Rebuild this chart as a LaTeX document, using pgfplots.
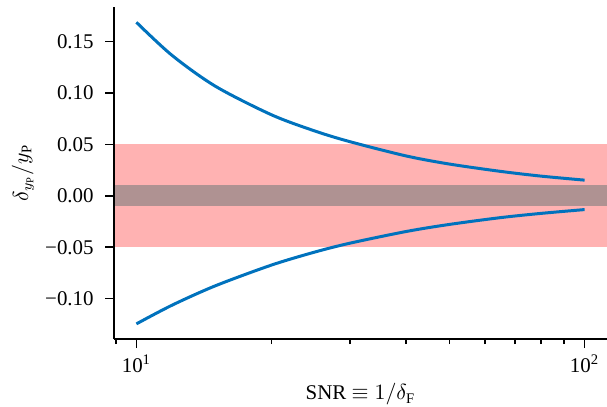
\documentclass[border=0pt]{standalone}
\usepackage{fontspec}
\setmainfont{Liberation Serif}
\usepackage{pgfplots}
\pgfplotsset{compat=1.18}
\definecolor{lineblue}{RGB}{0,114,189}
\definecolor{bandred}{RGB}{255,178,178}
\definecolor{bandgray}{RGB}{175,146,146}

\begin{document}
\fontsize{10.5}{12.6}\selectfont
\begin{tikzpicture}
\begin{axis}[
    scale only axis,
    width=246.5bp, height=166bp,
    xmode=log, xmin=8.9125, xmax=112.2,
    ymin=-0.1392, ymax=0.1835,
    axis lines=left,
    axis line style={-, line width=1.1pt},
    axis on top,
    tick align=outside,
    major tick length=4.5bp, minor tick length=2.5bp,
    every tick/.style={black, line width=0.8pt},
    ytick={-0.1,-0.05,0,0.05,0.1,0.15},
    yticklabels={−0.10,−0.05,0.00,0.05,0.10,0.15},
    yticklabel style={anchor=east, inner sep=0pt},
    yticklabel shift=5.5bp,
    xtick={10,100},
    xticklabels={10\textsuperscript{1},10\textsuperscript{2}},
    xticklabel style={anchor=base, inner sep=0pt},
    xticklabel shift=12bp,
    minor xtick={9,20,30,40,50,60,70,80,90},
    xlabel={SNR $\equiv 1/\delta_\mathrm{F}$},
    xlabel style={at={(axis description cs:0.5,-0.1837)}, anchor=base, inner sep=0pt},
    ylabel={$\delta_{y_\mathrm{P}}/y_\mathrm{P}$},
    ylabel style={at={(axis description cs:-0.1744,0.5)}, anchor=base, inner sep=0pt},
]
\addplot[draw=none, fill=bandred, forget plot] coordinates {
    (1,-0.05) (1000,-0.05) (1000,0.05) (1,0.05)} -- cycle;
\addplot[draw=none, fill=bandgray, forget plot] coordinates {
    (1,-0.01) (1000,-0.01) (1000,0.01) (1,0.01)} -- cycle;
\addplot[lineblue, line width=1.5bp, smooth] coordinates {
    (10,0.1686) (12,0.1366) (15,0.1065) (20,0.0788) (25,0.0630)
    (30,0.0525) (40,0.0387) (50,0.0308) (65,0.0237) (80,0.0191)
    (100,0.0152)
};
\addplot[lineblue, line width=1.5bp, smooth] coordinates {
    (10,-0.1245) (12,-0.1064) (15,-0.0875) (20,-0.0674) (25,-0.0547)
    (30,-0.0460) (40,-0.0347) (50,-0.0278) (65,-0.0212) (80,-0.0171)
    (100,-0.0134)
};
\end{axis}
\path (current axis.south west) ++(-57bp,-34bp) coordinate (bl);
\path (current axis.north east) ++(0bp,3.5bp) coordinate (tr);
\pgfresetboundingbox
\path[use as bounding box] (bl) rectangle (tr);
\end{tikzpicture}
\end{document}
